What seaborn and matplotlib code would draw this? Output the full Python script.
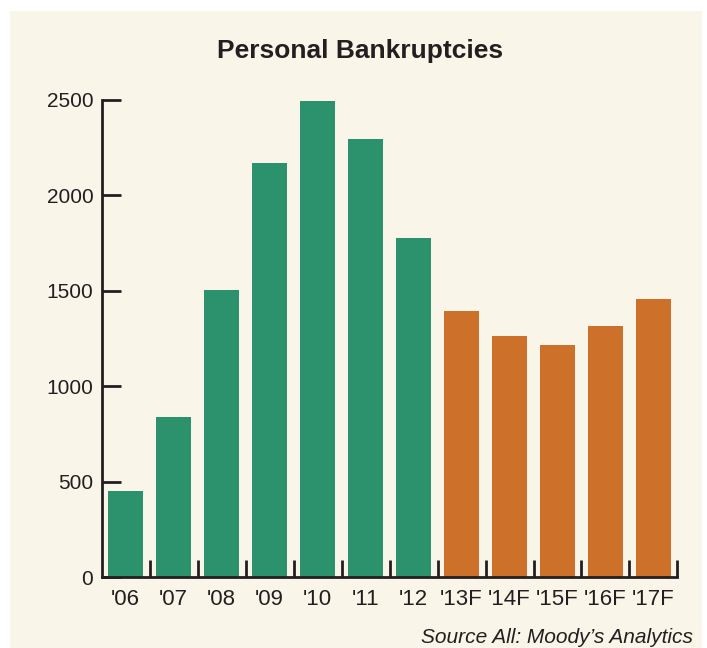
import pandas as pd
import matplotlib
matplotlib.use('Agg')
import matplotlib.pyplot as plt
import seaborn as sns
from matplotlib.patches import Rectangle

# values
years = ["'06", "'07", "'08", "'09", "'10", "'11", "'12", "'13F", "'14F", "'15F", "'16F", "'17F"]
filings = [453, 840, 1505, 2170, 2495, 2296, 1777, 1396, 1264, 1217, 1317, 1458]
kind = ['Actual'] * 7 + ['Forecast'] * 5
y_ticks = [0, 500, 1000, 1500, 2000, 2500]

colors = {'Actual': '#2c926e', 'Forecast': '#cd7029'}
cream = '#f9f5e9'
ink = '#231f20'

df = pd.DataFrame({'year': years, 'filings': filings, 'kind': kind})

sns.set_style('white')
plt.rcParams['font.family'] = ['Liberation Sans', 'DejaVu Sans']

fig = plt.figure(figsize=(7.07, 6.48), dpi=100, facecolor='white')
fig.patches.append(Rectangle((10 / 707, 0), 692 / 707, 1 - 11 / 648,
                             transform=fig.transFigure, facecolor=cream,
                             edgecolor='none', zorder=-10))
ax = fig.add_axes([0.1438, 0.1088, 0.8144, 0.7369])
ax.set_facecolor(cream)

sns.barplot(data=df, x='year', y='filings', hue='kind', palette=colors,
            dodge=False, width=0.73, legend=False, ax=ax, saturation=1,
            edgecolor='none', linewidth=0)

ax.set_xlim(-0.5, 11.5)
ax.set_ylim(0, 2500)
ax.set_yticks(y_ticks)
ax.set_xlabel('')
ax.set_ylabel('')

for s in ['top', 'right']:
    ax.spines[s].set_visible(False)
for s in ['left', 'bottom']:
    ax.spines[s].set_color(ink)
    ax.spines[s].set_linewidth(2)
    ax.spines[s].set_zorder(5)

ax.tick_params(axis='y', left=True, direction='in', length=14, width=2,
               color=ink, labelsize=15, labelcolor=ink, pad=6)
ax.tick_params(axis='x', which='major', bottom=True, length=0, labelsize=16,
               labelcolor=ink, pad=8)
ax.set_xticks([i + 0.5 for i in range(len(years))], minor=True)
ax.tick_params(axis='x', which='minor', bottom=True, direction='in',
               length=12, width=2, color=ink)

fig.text(0.509, 0.922, 'Personal Bankruptcies', ha='center', va='center',
         fontsize=19, fontweight='bold', color=ink)
fig.text(0.98, 0.016, 'Source All: Moody\u2019s Analytics', ha='right',
         va='center', fontsize=15, style='italic', color=ink)

fig.savefig('out.png', dpi=100, facecolor='white')
